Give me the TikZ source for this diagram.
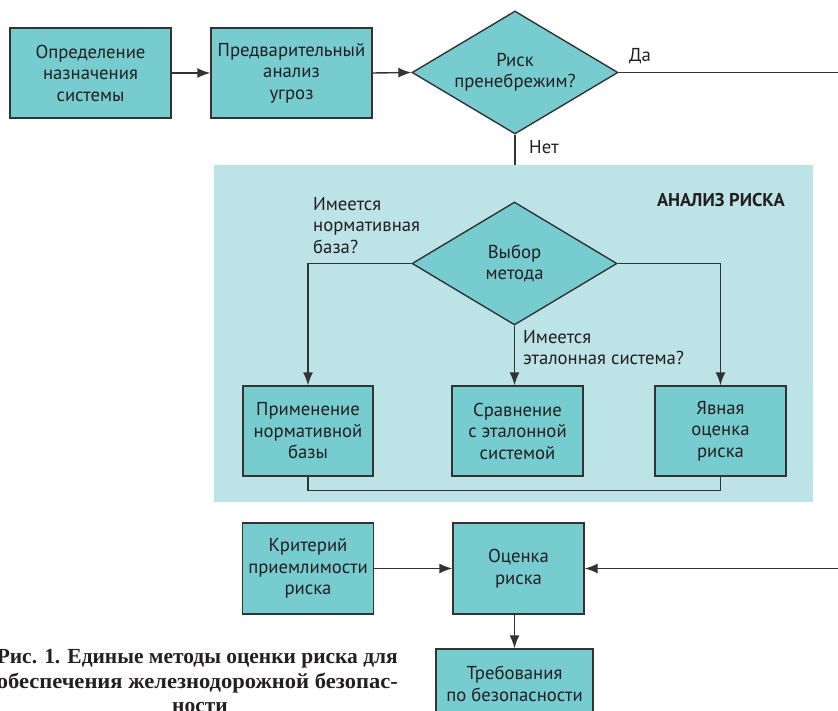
\documentclass[tikz,border=0pt]{standalone}
\usepackage{fontspec}
\usepackage{graphicx}
\setmainfont{PT Sans}
\newfontfamily\capfont{Liberation Serif}
\usetikzlibrary{shapes.geometric,arrows.meta}
\definecolor{boxfill}{HTML}{77CCCF}
\definecolor{regfill}{HTML}{BCE3E5}
\definecolor{edge}{HTML}{333333}
\definecolor{ink}{HTML}{231F20}
\newcommand{\capline}[1]{\resizebox{401pt}{\height}{#1}}
\begin{document}
\begin{tikzpicture}[x=1pt,y=-1pt,
  txt/.style={font=\fontsize{18.7}{21.5}\selectfont, text=ink},
  box/.style={txt, draw=edge, line width=1.4pt, fill=boxfill, align=center, inner sep=0pt},
  dia/.style={txt, diamond, aspect=1.67, draw=edge, line width=1.4pt, fill=boxfill, align=center, inner sep=0pt},
  conn/.style={draw=edge, line width=1.4pt},
  arr/.style={conn, -{Latex[length=13pt,width=10pt]}},
  lbl/.style={txt, align=left, inner sep=0pt},
  captext/.style={font=\capfont\bfseries\fontsize{21.5}{25}\selectfont, text=ink, inner sep=0pt}
]
\useasboundingbox (0,0) rectangle (838,711);

% analysis region
\node[fill=regfill, minimum width=599, minimum height=337, inner sep=0pt, anchor=north west] (region) at (214,165) {};

% top row
\node[box, minimum width=161, minimum height=90] (def) at (90.5,73) {Определение\\назначения\\системы};
\node[box, minimum width=161, minimum height=90] (pre) at (291.5,73) {Предварительный\\анализ\\угроз};
\node[dia, minimum width=206, minimum height=123] (d1) at (515,72.5) {Риск\\пренебрежим?};
\coordinate (yesend) at (838,72.5);

\draw[arr] (def.east) -- (pre.west);
\draw[arr] (pre.east) -- (d1.west);
\draw[conn] (d1.east) -- (yesend);
\draw[conn] (d1.south) -- (d1.south |- region.north);
\node[lbl, anchor=base west] (da) at (629,62) {Да};
\node[lbl, anchor=base west] (net) at (529,154) {Нет};

% analysis content
\node[txt, font=\bfseries\fontsize{18.5}{20}\selectfont, anchor=base east, inner sep=0pt] (title) at (785,207) {АНАЛИЗ РИСКА};
\node[dia, minimum width=205, minimum height=123] (d2) at (514.5,263.5) {Выбор\\метода};
\node[box, minimum width=130, minimum height=90] (norm) at (308,431) {Применение\\нормативной\\базы};
\node[box, minimum width=131, minimum height=90] (cmp) at (517.5,431) {Сравнение\\с эталонной\\системой};
\node[box, minimum width=131, minimum height=90] (expl) at (720.5,431) {Явная\\оценка\\риска};

\draw[arr] (d2.west) -| (norm.north);
\draw[arr] (d2.south) -- (d2.south |- cmp.north);
\draw[arr] (d2.east) -| (expl.north);
\draw[conn] (norm.south) -- ++(0,14) -| (expl.south);

\node[lbl, anchor=north west] (q1) at (313,197) {Имеется\\нормативная\\база?};
\node[lbl, anchor=north west] (q2) at (523,330) {Имеется\\эталонная система?};

% bottom
\node[box, minimum width=131, minimum height=91] (crit) at (308,568.5) {Критерий\\приемлимости\\риска};
\node[box, minimum width=131, minimum height=91] (est) at (518.5,568.5) {Оценка\\риска};
\node[box, minimum width=157, minimum height=70] (req) at (514.5,684) {Требования\\по безопасности};
\coordinate (inend) at (838,568.5);

\draw[arr] (crit.east) -- (est.west);
\draw[arr] (inend) -- (est.east);
\draw[arr] (est.south -| req.north) -- (req.north);

% caption
\node[captext, anchor=base east] (cap1) at (398,663) {\capline{Рис. 1. Единые методы оценки риска для}};
\node[captext, anchor=base east] (cap2) at (398,688) {\capline{обеспечения железнодорожной безопас-}};
\node[captext, anchor=base] (cap3) at (200,712) {ности};
\end{tikzpicture}
\end{document}
